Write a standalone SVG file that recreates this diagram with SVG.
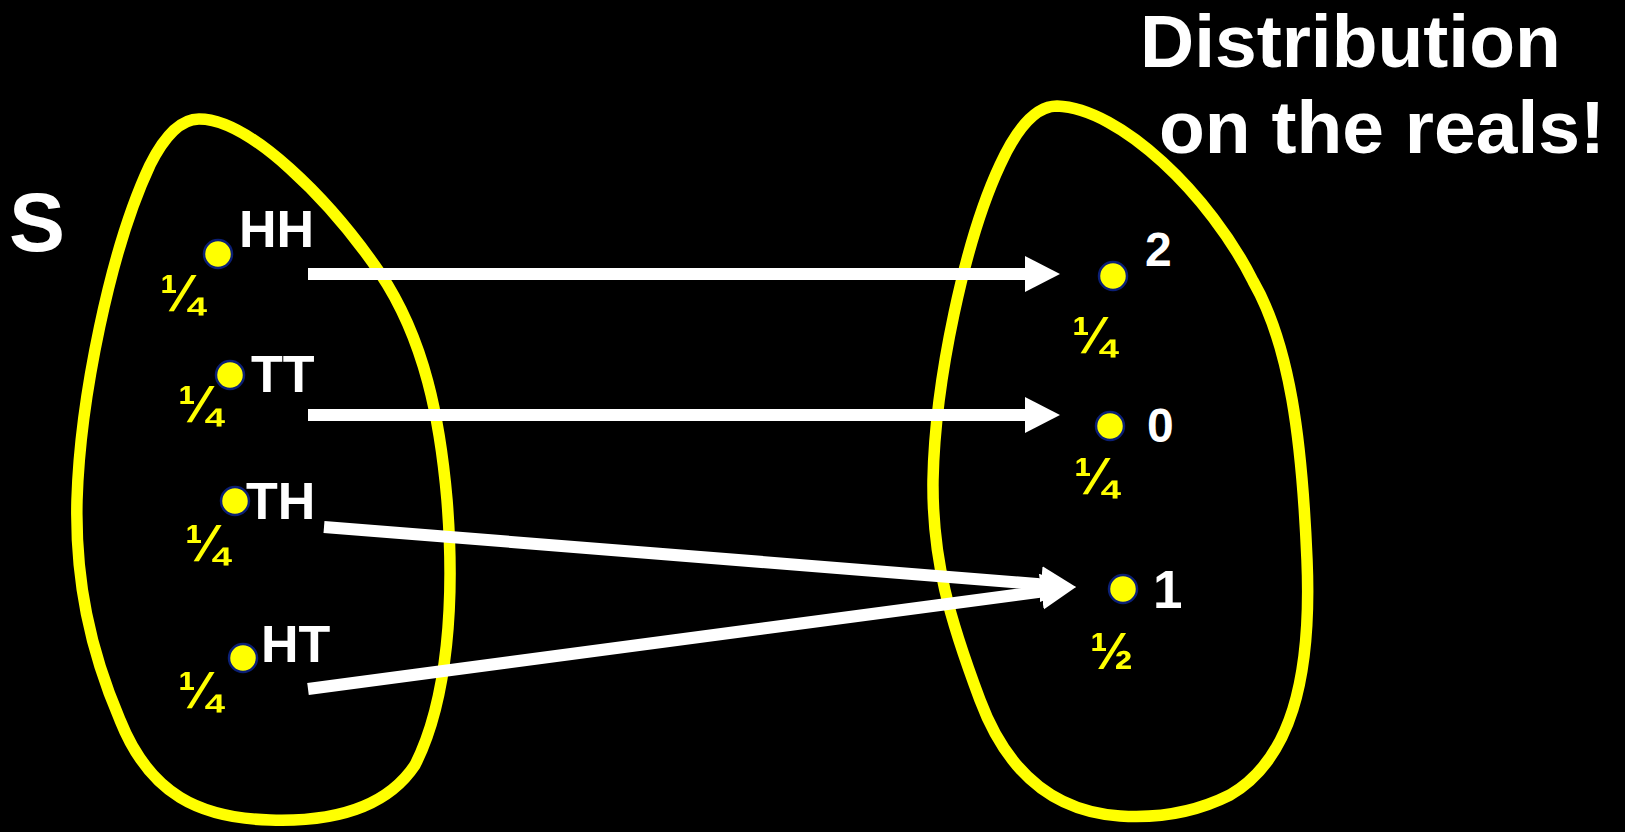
<svg xmlns="http://www.w3.org/2000/svg" width="1625" height="832" viewBox="0 0 1625 832">
  <style>
    .blob { fill: none; stroke: #ffff00; stroke-width: 11.5; }
    .dot { fill: #ffff00; stroke: #0b1f75; stroke-width: 2.5; }
    .lbl { font-family: "Liberation Sans", Arial, sans-serif; font-weight: bold; fill: #ffffff; }
    .frac { font-family: "Liberation Sans", Arial, sans-serif; font-weight: bold; fill: #ffff00; font-size: 52px; }
    .edge { stroke: #ffffff; stroke-width: 12; fill: none; marker-end: url(#head); }
  </style>
  <defs>
    <marker id="head" markerUnits="userSpaceOnUse" markerWidth="36" markerHeight="38" refX="2" refY="18" orient="auto">
      <path d="M0,0 L35,18 L0,36 Z" fill="#ffffff"/>
    </marker>
  </defs>

  <rect width="1625" height="832" fill="#000000"/>

  <!-- sample space S -->
  <g id="sample-space">
    <path class="blob" d="M199,119 C250,119 330,200 380,273 C425,340 440,420 447,500 C455,600 448,700 415,765 C385,810 330,822 270,820 C200,818 150,795 120,720 C90,650 75,580 77,500 C80,400 110,250 150,165 C166,133 182,119 199,119 Z"/>
    <text class="lbl" x="9" y="251" font-size="84">S</text>
  </g>

  <!-- real line values -->
  <g id="reals">
    <path class="blob" d="M1057,106 C1120,108 1210,195 1253,281 C1290,345 1302,440 1307,560 C1312,680 1290,760 1230,795 C1190,815 1150,818 1120,816 C1060,812 1010,780 980,700 C950,620 932,560 933,480 C935,380 965,240 1000,165 C1016,130 1035,106 1057,106 Z"/>
  </g>

  <!-- outcomes -->
  <g id="outcome-HH">
    <circle class="dot" cx="218" cy="254" r="14"/>
    <text class="lbl" x="239" y="247" font-size="52">HH</text>
    <text class="frac" x="160" y="311">¼</text>
  </g>
  <g id="outcome-TT">
    <circle class="dot" cx="230" cy="375" r="14"/>
    <text class="lbl" x="251" y="392" font-size="52">TT</text>
    <text class="frac" x="178" y="422">¼</text>
  </g>
  <g id="outcome-TH">
    <circle class="dot" cx="235" cy="501" r="14"/>
    <text class="lbl" x="246" y="519" font-size="52">TH</text>
    <text class="frac" x="185" y="561">¼</text>
  </g>
  <g id="outcome-HT">
    <circle class="dot" cx="243" cy="658" r="14"/>
    <text class="lbl" x="261" y="662" font-size="52">HT</text>
    <text class="frac" x="178" y="708">¼</text>
  </g>

  <!-- values -->
  <g id="value-2">
    <circle class="dot" cx="1113" cy="276" r="14"/>
    <text class="lbl" x="1145" y="266" font-size="48">2</text>
    <text class="frac" x="1072" y="353">¼</text>
  </g>
  <g id="value-0">
    <circle class="dot" cx="1110" cy="426" r="14"/>
    <text class="lbl" x="1147" y="442" font-size="48">0</text>
    <text class="frac" x="1074" y="494">¼</text>
  </g>
  <g id="value-1">
    <circle class="dot" cx="1123" cy="589" r="14"/>
    <text class="lbl" x="1153" y="608" font-size="53">1</text>
    <text class="frac" x="1090" y="669">½</text>
  </g>

  <!-- mapping arrows -->
  <g id="connectors">
    <line class="edge" x1="308" y1="274" x2="1027" y2="274"/>
    <line class="edge" x1="308" y1="415" x2="1027" y2="415"/>
    <line class="edge" x1="324" y1="527" x2="1043.1" y2="584.4"/>
    <line class="edge" x1="308" y1="689" x2="1043.3" y2="591.3"/>
  </g>

  <!-- caption -->
  <g id="caption">
    <text class="lbl" x="1140" y="67" font-size="75">Distribution</text>
    <text class="lbl" x="1159" y="153" font-size="75">on the reals!</text>
  </g>
</svg>
